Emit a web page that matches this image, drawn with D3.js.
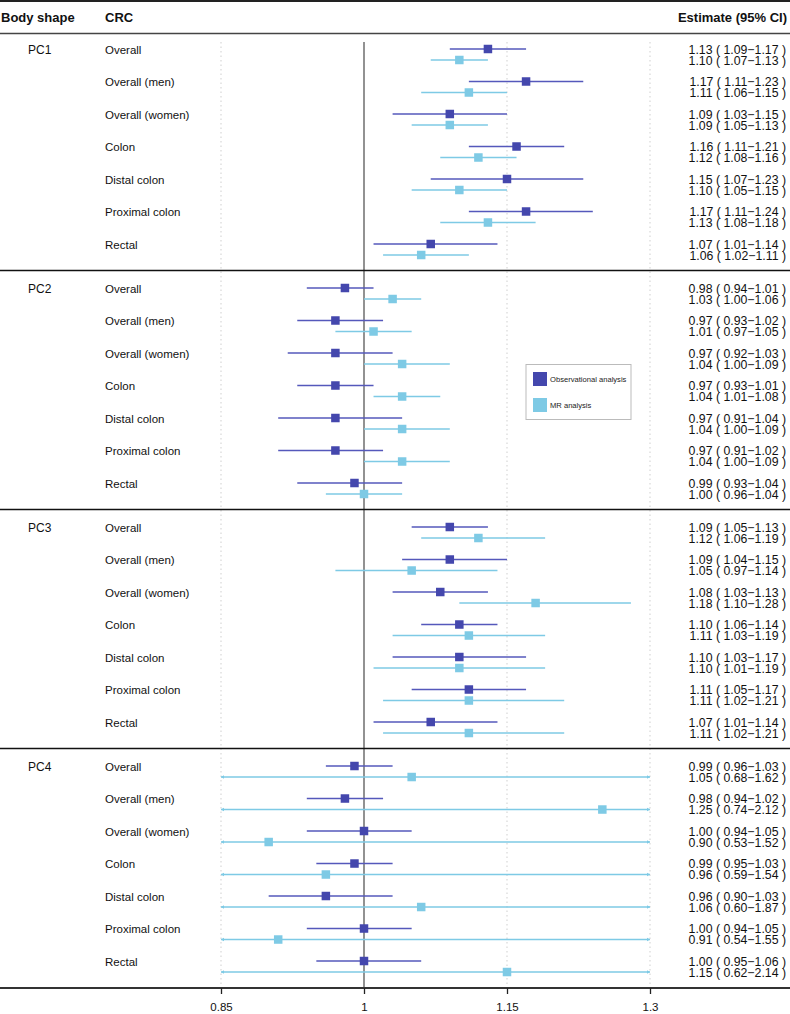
<!DOCTYPE html>
<html><head><meta charset="utf-8">
<script src="https://cdn.jsdelivr.net/npm/d3@7"></script>
<style>
body{margin:0;background:#fff;}
text{font-family:"Liberation Sans",Arial,Helvetica,sans-serif;}
</style></head>
<body><svg id="c" width="790" height="1014"></svg>
<script>
const groups = ["PC1","PC2","PC3","PC4"];
const outcomes = ["Overall","Overall (men)","Overall (women)","Colon","Distal colon","Proximal colon","Rectal"];
// observational: [estimate, lower, upper] per group per outcome
const obsEst = [
  [1.13,1.17,1.09,1.16,1.15,1.17,1.07],
  [0.98,0.97,0.97,0.97,0.97,0.97,0.99],
  [1.09,1.09,1.08,1.10,1.10,1.11,1.07],
  [0.99,0.98,1.00,0.99,0.96,1.00,1.00]];
const obsLo = [
  [1.09,1.11,1.03,1.11,1.07,1.11,1.01],
  [0.94,0.93,0.92,0.93,0.91,0.91,0.93],
  [1.05,1.04,1.03,1.06,1.03,1.05,1.01],
  [0.96,0.94,0.94,0.95,0.90,0.94,0.95]];
const obsHi = [
  [1.17,1.23,1.15,1.21,1.23,1.24,1.14],
  [1.01,1.02,1.03,1.01,1.04,1.02,1.04],
  [1.13,1.15,1.13,1.14,1.17,1.17,1.14],
  [1.03,1.02,1.05,1.03,1.03,1.05,1.06]];
const mrEst = [
  [1.10,1.11,1.09,1.12,1.10,1.13,1.06],
  [1.03,1.01,1.04,1.04,1.04,1.04,1.00],
  [1.12,1.05,1.18,1.11,1.10,1.11,1.11],
  [1.05,1.25,0.90,0.96,1.06,0.91,1.15]];
const mrLo = [
  [1.07,1.06,1.05,1.08,1.05,1.08,1.02],
  [1.00,0.97,1.00,1.01,1.00,1.00,0.96],
  [1.06,0.97,1.10,1.03,1.01,1.02,1.02],
  [0.68,0.74,0.53,0.59,0.60,0.54,0.62]];
const mrHi = [
  [1.13,1.15,1.13,1.16,1.15,1.18,1.11],
  [1.06,1.05,1.09,1.08,1.09,1.09,1.04],
  [1.19,1.14,1.28,1.19,1.19,1.21,1.21],
  [1.62,2.12,1.52,1.54,1.87,1.55,2.14]];
const tickValues = [0.85,1,1.15,1.3];
const tickLabels = ["0.85","1","1.15","1.3"];
const legendLabels = ["Observational analysis","MR analysis"];

const colObs = "#4447ad", colObsLine = "#5558bb", colMR = "#7ecae5";
const svg = d3.select("#c");
const W = 790;
const x = d3.scaleLinear().domain([0.85,1.3]).range([221,650]);
const gapRows = 0.354;
const y = d3.scaleLinear().domain([0,1]).range([49,81.5]);
const rowY = (g,r) => y(g*(7+gapRows)+r);
const mrOff = 11;
const plotTop = 42, plotBot = 988;

// gridlines
svg.append("g").selectAll("line").data(tickValues.filter(v=>v!==1)).join("line")
  .attr("x1",d=>x(d)).attr("x2",d=>x(d)).attr("y1",plotTop).attr("y2",plotBot)
  .attr("stroke","#cfcfcf").attr("stroke-width",1).attr("stroke-dasharray","1.5,3");
// reference line
svg.append("line").attr("x1",x(1)).attr("x2",x(1)).attr("y1",plotTop).attr("y2",plotBot)
  .attr("stroke","#6e6e6e").attr("stroke-width",1.5);

// header
svg.append("line").attr("x1",0).attr("x2",W).attr("y1",1).attr("y2",1).attr("stroke","#222").attr("stroke-width",2);
svg.append("line").attr("x1",0).attr("x2",W).attr("y1",33.5).attr("y2",33.5).attr("stroke","#444").attr("stroke-width",1.5);
const hdr = svg.append("g").attr("font-weight","bold").attr("font-size",13).attr("fill","#111");
hdr.append("text").attr("x",1).attr("y",22).text("Body shape");
hdr.append("text").attr("x",105).attr("y",22).text("CRC");
hdr.append("text").attr("x",787).attr("y",22).attr("text-anchor","end").text("Estimate (95% CI)");

// group separators
for(let g=1; g<groups.length; g++){
  const yy = (rowY(g-1,6)+mrOff + rowY(g,0))/2 - 1;
  svg.append("line").attr("x1",0).attr("x2",W).attr("y1",yy).attr("y2",yy).attr("stroke","#111").attr("stroke-width",1.5);
}
svg.append("line").attr("x1",0).attr("x2",W).attr("y1",plotBot).attr("y2",plotBot).attr("stroke","#333").attr("stroke-width",2);

const fmt = d3.format(".2f");
const clip = v => Math.max(0.85, Math.min(1.3, v));
const rows = [];
groups.forEach((gname,g)=>{
  outcomes.forEach((o,r)=>{
    rows.push({g,r,o,gname,
      oe:obsEst[g][r],ol:obsLo[g][r],oh:obsHi[g][r],
      me:mrEst[g][r],ml:mrLo[g][r],mh:mrHi[g][r]});
  });
});

// labels
svg.append("g").selectAll("text").data(groups).join("text")
  .attr("x",28).attr("y",(d,g)=>rowY(g,0)+4.5).attr("font-size",12).attr("fill","#111").text(d=>d);
svg.append("g").selectAll("text").data(rows).join("text")
  .attr("x",105).attr("y",d=>rowY(d.g,d.r)+4.5).attr("font-size",11.5).attr("fill","#111").text(d=>d.o);

// estimates text
const et = svg.append("g").attr("font-size",12.3).attr("fill","#111").attr("text-anchor","end");
et.selectAll("text.o").data(rows).join("text").attr("class","o")
  .attr("x",786).attr("y",d=>rowY(d.g,d.r)+4.5)
  .text(d=>`${fmt(d.oe)} ( ${fmt(d.ol)}\u2212${fmt(d.oh)} )`);
et.selectAll("text.m").data(rows).join("text").attr("class","m")
  .attr("x",786).attr("y",d=>rowY(d.g,d.r)+mrOff+4.5)
  .text(d=>`${fmt(d.me)} ( ${fmt(d.ml)}\u2212${fmt(d.mh)} )`);

// CI lines
const marks = svg.append("g");
marks.selectAll("line.mr").data(rows).join("line").attr("class","mr")
  .attr("x1",d=>x(clip(d.ml))).attr("x2",d=>x(clip(d.mh)))
  .attr("y1",d=>rowY(d.g,d.r)+mrOff).attr("y2",d=>rowY(d.g,d.r)+mrOff)
  .attr("stroke",colMR).attr("stroke-width",1.6);
// arrows for clipped
const arrows = [];
rows.forEach(d=>{
  if(d.ml<0.85) arrows.push({x:x(0.85),y:rowY(d.g,d.r)+mrOff,dir:-1});
  if(d.mh>1.3) arrows.push({x:x(1.3),y:rowY(d.g,d.r)+mrOff,dir:1});
});
marks.selectAll("path.arr").data(arrows).join("path").attr("class","arr")
  .attr("d",a=>`M${a.x},${a.y}L${a.x-a.dir*3},${a.y-1.8}L${a.x-a.dir*3},${a.y+1.8}Z`)
  .attr("fill",colMR);
marks.selectAll("line.ob").data(rows).join("line").attr("class","ob")
  .attr("x1",d=>x(clip(d.ol))).attr("x2",d=>x(clip(d.oh)))
  .attr("y1",d=>rowY(d.g,d.r)).attr("y2",d=>rowY(d.g,d.r))
  .attr("stroke",colObsLine).attr("stroke-width",1.5);
const sq = 8.5;
marks.selectAll("rect.mr").data(rows).join("rect").attr("class","mr")
  .attr("x",d=>x(d.me)-sq/2).attr("y",d=>rowY(d.g,d.r)+mrOff-sq/2)
  .attr("width",sq).attr("height",sq).attr("fill",colMR);
marks.selectAll("rect.ob").data(rows).join("rect").attr("class","ob")
  .attr("x",d=>x(d.oe)-sq/2).attr("y",d=>rowY(d.g,d.r)-sq/2)
  .attr("width",sq).attr("height",sq).attr("fill",colObs);

// axis
const axis = d3.axisBottom(x).tickValues(tickValues).tickFormat((d,i)=>tickLabels[i]).tickSize(6).tickPadding(9);
const ax = svg.append("g").attr("transform",`translate(0,${plotBot})`).call(axis);
ax.select(".domain").remove();
ax.selectAll("line").attr("stroke","#222").attr("stroke-width",1.3);
ax.selectAll("text").attr("font-size",11.5).attr("fill","#111").attr("font-family","Liberation Sans, Arial, sans-serif");

// legend
const lg = svg.append("g");
lg.append("rect").attr("x",526).attr("y",364.5).attr("width",105).attr("height",55)
  .attr("fill","#fff").attr("stroke","#bbb").attr("stroke-width",1);
const lc = [colObs,colMR];
legendLabels.forEach((t,i)=>{
  lg.append("rect").attr("x",533).attr("y",372+i*26).attr("width",14).attr("height",14).attr("fill",lc[i]);
  lg.append("text").attr("x",550).attr("y",382+i*26).attr("font-size",7.6).attr("fill","#222")
    .attr("font-family","DejaVu Sans Condensed, DejaVu Sans, sans-serif").text(t);
});
</script></body></html>
